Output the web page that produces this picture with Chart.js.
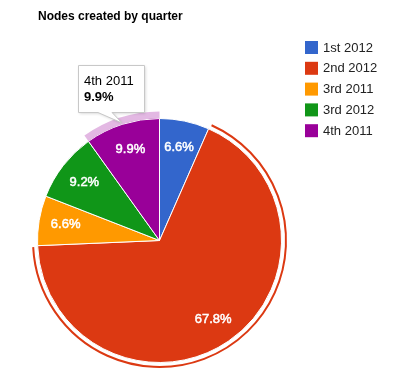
<!DOCTYPE html>
<html>
<head>
<meta charset="utf-8">
<script src="https://cdn.jsdelivr.net/npm/chart.js@4/dist/chart.umd.min.js"></script>
<style>
html,body{margin:0;padding:0;background:#fff;}
canvas{display:block;}
</style>
</head>
<body>
<canvas id="c" width="411" height="386"></canvas>
<script>
const titleText = "Nodes created by quarter";
const categories = ["1st 2012", "2nd 2012", "3rd 2011", "3rd 2012", "4th 2011"];
const values = [6.6, 67.8, 6.6, 9.2, 9.9];
const colors = ["#3366cc", "#dc3912", "#ff9900", "#109618", "#990099"];
const selectedIndex = 1;   // slice with outer selection ring
const hoverIndex = 4;      // slice with hover ring + tooltip

const FONT = "Arial, 'Liberation Sans', sans-serif";

const extras = {
  id: 'extras',
  afterDatasetsDraw(chart) {
    const ctx = chart.ctx;
    const meta = chart.getDatasetMeta(0);

    // slice labels
    ctx.save();
    ctx.fillStyle = '#fff';
    ctx.strokeStyle = '#fff';
    ctx.lineWidth = 0.5;
    ctx.font = '13px ' + FONT;
    ctx.textAlign = 'center';
    ctx.textBaseline = 'middle';
    meta.data.forEach((arc, i) => {
      const mid = (arc.startAngle + arc.endAngle) / 2;
      const r = arc.outerRadius * 0.78;
      const x = arc.x + Math.cos(mid) * r;
      const y = arc.y + Math.sin(mid) * r;
      const t = values[i].toFixed(1) + '%';
      ctx.fillText(t, x, y);
      ctx.strokeText(t, x, y);
    });
    ctx.restore();

    // selection ring
    const sel = meta.data[selectedIndex];
    ctx.save();
    ctx.strokeStyle = colors[selectedIndex];
    ctx.lineWidth = 2;
    ctx.beginPath();
    ctx.arc(sel.x, sel.y, sel.outerRadius + 4.5, sel.startAngle + 0.01, sel.endAngle - 0.01);
    ctx.stroke();
    ctx.restore();

    // hover ring
    const hv = meta.data[hoverIndex];
    ctx.save();
    ctx.fillStyle = 'rgba(153,0,153,0.28)';
    ctx.beginPath();
    ctx.arc(hv.x, hv.y, hv.outerRadius + 7, hv.startAngle, hv.endAngle);
    ctx.arc(hv.x, hv.y, hv.outerRadius, hv.endAngle, hv.startAngle, true);
    ctx.closePath();
    ctx.fill();
    ctx.restore();
  },
  afterDraw(chart) {
    const ctx = chart.ctx;
    // title
    ctx.save();
    ctx.fillStyle = '#000';
    ctx.font = 'bold 12px ' + FONT;
    ctx.textAlign = 'left';
    ctx.textBaseline = 'alphabetic';
    ctx.fillText(titleText, 38, 20);
    ctx.restore();

    // legend
    ctx.save();
    ctx.font = '13px ' + FONT;
    ctx.textBaseline = 'middle';
    categories.forEach((c, i) => {
      const y = 41 + i * 20.8;
      ctx.fillStyle = colors[i];
      ctx.fillRect(305, y, 13, 13);
      ctx.fillStyle = '#222';
      ctx.fillText(c, 323, y + 7);
    });
    ctx.restore();

    // tooltip
    const bx = 78.5, by = 65.5, bw = 66, bh = 47;
    ctx.save();
    ctx.beginPath();
    ctx.moveTo(bx, by);
    ctx.lineTo(bx + bw, by);
    ctx.lineTo(bx + bw, by + bh);
    ctx.lineTo(112, by + bh);
    ctx.lineTo(122, 123);
    ctx.lineTo(98, by + bh);
    ctx.lineTo(bx, by + bh);
    ctx.closePath();
    ctx.shadowColor = 'rgba(0,0,0,0.18)';
    ctx.shadowBlur = 3;
    ctx.shadowOffsetX = 1;
    ctx.shadowOffsetY = 1;
    ctx.fillStyle = '#fff';
    ctx.fill();
    ctx.shadowColor = 'transparent';
    ctx.strokeStyle = '#c8c8c8';
    ctx.lineWidth = 1;
    ctx.stroke();
    ctx.fillStyle = '#000';
    ctx.textAlign = 'left';
    ctx.textBaseline = 'alphabetic';
    ctx.font = '13px ' + FONT;
    ctx.fillText(categories[hoverIndex], 84, 85);
    ctx.font = 'bold 13px ' + FONT;
    ctx.fillText(values[hoverIndex].toFixed(1) + '%', 84, 101);
    ctx.restore();
  }
};

new Chart(document.getElementById('c'), {
  type: 'pie',
  data: {
    labels: categories,
    datasets: [{
      data: values,
      backgroundColor: colors,
      borderColor: '#ffffff',
      borderWidth: 1,
      hoverOffset: 0
    }]
  },
  options: {
    responsive: false,
    animation: false,
    events: [],
    layout: { padding: { left: 37, right: 129, top: 118, bottom: 23 } },
    plugins: {
      legend: { display: false },
      title: { display: false },
      tooltip: { enabled: false }
    }
  },
  plugins: [extras]
});
</script>
</body>
</html>
